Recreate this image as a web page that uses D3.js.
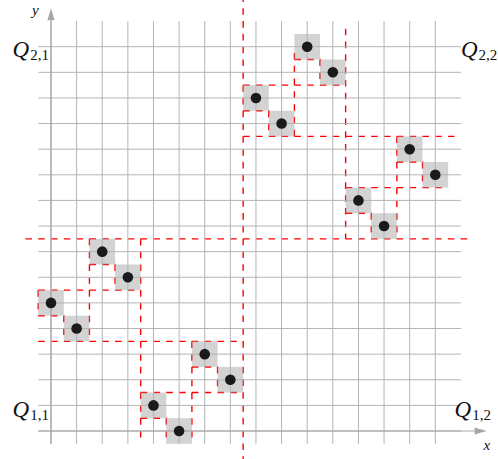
<!DOCTYPE html>
<html>
<head>
<meta charset="utf-8">
<script src="https://cdn.jsdelivr.net/npm/d3@7"></script>
<style>
  body { margin: 0; background: #fff; }
  text { font-family: "Liberation Serif", "DejaVu Serif", serif; fill: #111; }
</style>
</head>
<body>
<script>
// points of the permutation (column -> row)
const px = [0, 1, 2, 3, 4, 5, 6, 7, 8, 9, 10, 11, 12, 13, 14, 15];
const py = [5, 4, 7, 6, 1, 0, 3, 2, 13, 12, 15, 14, 9, 8, 11, 10];

// grid values
const gridValues = [0, 1, 2, 3, 4, 5, 6, 7, 8, 9, 10, 11, 12, 13, 14, 15];

// dashed separators [x1, y1, x2, y2] in grid units
const splitLines = [
  [7.5, 17, 7.5, -1.2], [-1, 7.5, 16.3, 7.5],           // main cross
  [3.5, 7.5, 3.5, -0.3], [-0.5, 3.5, 7.5, 3.5],         // Q11 quadrant
  [11.5, 15.7, 11.5, 7.5], [7.5, 11.5, 15.75, 11.5],    // Q22 quadrant
  [1.5, 7.5, 1.5, 3.5], [-0.5, 5.5, 3.5, 5.5],
  [5.5, 3.5, 5.5, -0.5], [3.5, 1.5, 7.5, 1.5],
  [9.5, 11.5, 9.5, 14.8], [7.5, 13.5, 11.5, 13.5],
  [13.5, 11.5, 13.5, 7.5], [11.5, 9.5, 15.5, 9.5],
  [-0.5, 5.5, -0.5, 4.5]
];

// quadrant labels
const quadLabels = [
  { name: "Q", sub: "2,1", gx: -1.5, gy: 14.6 },
  { name: "Q", sub: "2,2", gx: 16.0, gy: 14.6 },
  { name: "Q", sub: "1,1", gx: -1.5, gy: 0.53 },
  { name: "Q", sub: "1,2", gx: 15.75, gy: 0.53 }
];

const W = 498, H = 459;
const svg = d3.select("body").append("svg").attr("width", W).attr("height", H);

const x = d3.scaleLinear().domain([0, 15]).range([51, 435.3]);
const y = d3.scaleLinear().domain([0, 15]).range([431, 46.7]);
const cell = x(1) - x(0);

// red dashed separators
svg.append("g").selectAll("line").data(splitLines).join("line")
  .attr("x1", d => x(d[0])).attr("y1", d => y(d[1]))
  .attr("x2", d => x(d[2])).attr("y2", d => y(d[3]))
  .attr("stroke", "#f00").attr("stroke-width", 1.4)
  .attr("stroke-dasharray", "6.6,6.2");

// staircase inside each pair of points
const pairs = d3.range(0, px.length, 2).map(i => [px[i], py[i]]);
const stair = d3.line().x(d => x(d[0])).y(d => y(d[1]));
svg.append("g").selectAll("path").data(pairs).join("path")
  .attr("d", d => stair([[d[0] - 0.5, d[1] - 0.5], [d[0] + 0.5, d[1] - 0.5], [d[0] + 0.5, d[1] - 1.5]]))
  .attr("fill", "none")
  .attr("stroke", "#f00").attr("stroke-width", 1.4)
  .attr("stroke-dasharray", "6.6,6.2");

// gray cells
svg.append("g").selectAll("rect").data(px).join("rect")
  .attr("x", (d, i) => x(d) - cell / 2)
  .attr("y", (d, i) => y(py[i]) - cell / 2)
  .attr("width", cell).attr("height", cell)
  .attr("fill", "#a8a8a8").attr("fill-opacity", 0.5);

// grid
const grid = svg.append("g").attr("stroke", "#b4b4b4").attr("stroke-width", 1);
grid.selectAll(".v").data(gridValues).join("line").attr("class", "v")
  .attr("x1", d => x(d)).attr("x2", d => x(d))
  .attr("y1", y(-0.5)).attr("y2", y(16));
grid.selectAll(".h").data(gridValues).join("line").attr("class", "h")
  .attr("y1", d => y(d)).attr("y2", d => y(d))
  .attr("x1", x(-0.5)).attr("x2", x(16));

// axes with arrows
const axisCol = "#a6a6a6";
const arrowLen = 12, arrowHalf = 3.6;
svg.append("line").attr("x1", x(-0.5)).attr("x2", x(17) - arrowLen)
  .attr("y1", y(0)).attr("y2", y(0)).attr("stroke", axisCol).attr("stroke-width", 1.2);
svg.append("path")
  .attr("d", `M${x(17)},${y(0)}L${x(17) - arrowLen},${y(0) - arrowHalf}L${x(17) - arrowLen},${y(0) + arrowHalf}Z`)
  .attr("fill", axisCol);
svg.append("line").attr("x1", x(0)).attr("x2", x(0))
  .attr("y1", y(-0.5)).attr("y2", y(16.5) + arrowLen).attr("stroke", axisCol).attr("stroke-width", 1.2);
svg.append("path")
  .attr("d", `M${x(0)},${y(16.5)}L${x(0) - arrowHalf},${y(16.5) + arrowLen}L${x(0) + arrowHalf},${y(16.5) + arrowLen}Z`)
  .attr("fill", axisCol);

svg.append("text").attr("x", x(17) - 3).attr("y", 450)
  .attr("font-style", "italic").attr("font-size", 15).text("x");
svg.append("text").attr("x", 32).attr("y", 15)
  .attr("font-style", "italic").attr("font-size", 15).text("y");

// points
svg.append("g").selectAll("circle").data(px).join("circle")
  .attr("cx", d => x(d)).attr("cy", (d, i) => y(py[i]))
  .attr("r", 5.3).attr("fill", "#1a1a1a");

// quadrant labels
const lab = svg.append("g").selectAll("text").data(quadLabels).join("text")
  .attr("x", d => x(d.gx)).attr("y", d => y(d.gy));
lab.append("tspan").attr("font-style", "italic").attr("font-size", 23).text(d => d.name);
lab.append("tspan").attr("font-size", 15).attr("dx", 1).attr("dy", 3).text(d => d.sub);
</script>
</body>
</html>
